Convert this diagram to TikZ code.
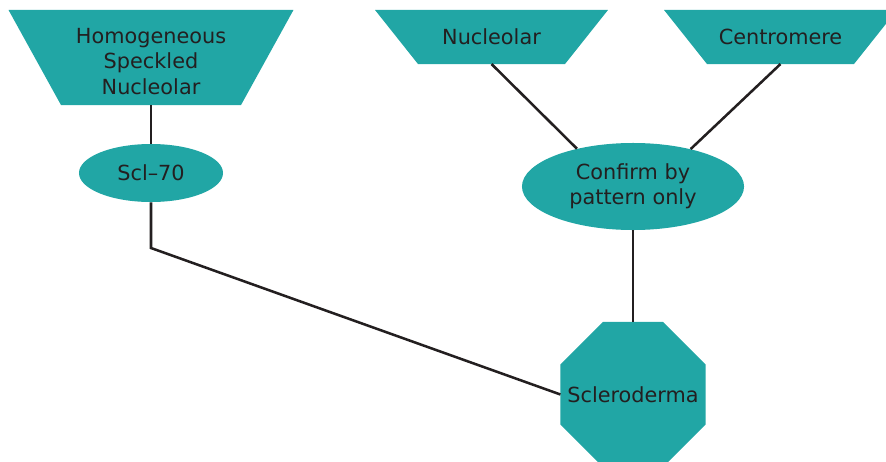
\documentclass[tikz,border=0pt]{standalone}
\usepackage{fontspec}
\setmainfont{DejaVu Sans}
\usetikzlibrary{shapes.geometric}
\definecolor{boxteal}{RGB}{33,166,165}
\definecolor{inkgray}{RGB}{35,31,32}
\tikzset{
	every label/.style={text=inkgray, align=center, font=\fontsize{14.8pt}{18.1pt}\selectfont},
	pattern/.style={trapezium, fill=boxteal, outer sep=0pt},
	antibody/.style={ellipse, fill=boxteal, text=inkgray, align=center, inner sep=0pt,
		font=\fontsize{14.8pt}{18.1pt}\selectfont},
	disease/.style={regular polygon, regular polygon sides=8, fill=boxteal,
		inner sep=0pt, outer sep=0pt, minimum size=3.925cm}
}
\begin{document}
\begin{tikzpicture}[x=0.025cm, y=-0.025cm]
\useasboundingbox (0, 0) rectangle (886, 461);

\node[pattern, trapezium left angle=118.9, trapezium right angle=118.9,
	inner xsep=2.25cm, inner ysep=1.1875cm,
	label={[yshift=-0.1cm]center:Homogeneous\\Speckled\\Nucleolar}] (homog) at (151, 57.5) {};
\node[pattern, trapezium left angle=128.5, trapezium right angle=128.5,
	inner xsep=1.8375cm, inner ysep=0.675cm, label=center:Nucleolar] (nucl) at (491.5, 37) {};
\node[pattern, trapezium left angle=128.5, trapezium right angle=128.5,
	inner xsep=1.8375cm, inner ysep=0.675cm, label=center:Centromere] (centro) at (780.5, 37) {};

\node[antibody, minimum width=3.6cm, minimum height=1.45cm] (scl) at (151, 173) {Scl--70};
\node[antibody, minimum width=5.55cm, minimum height=2.175cm] (confirm) at (633, 186.5)
	{Confirm by\\pattern only};
\node[disease, label=center:Scleroderma] (sclero) at (633, 394.5) {};

\coordinate (bend) at (151, 248);
\draw[line width=1.8pt, inkgray] (homog.south) -- (scl.north);
\draw[line width=1.8pt, inkgray] (scl.south) -- (bend) -- (sclero.west);
\draw[line width=1.8pt, inkgray] (nucl.south) -- (confirm.146);
\draw[line width=1.8pt, inkgray] (centro.south) -- (confirm.33);
\draw[line width=1.8pt, inkgray] (confirm.south) -- (sclero.north);

\end{tikzpicture}
\end{document}
